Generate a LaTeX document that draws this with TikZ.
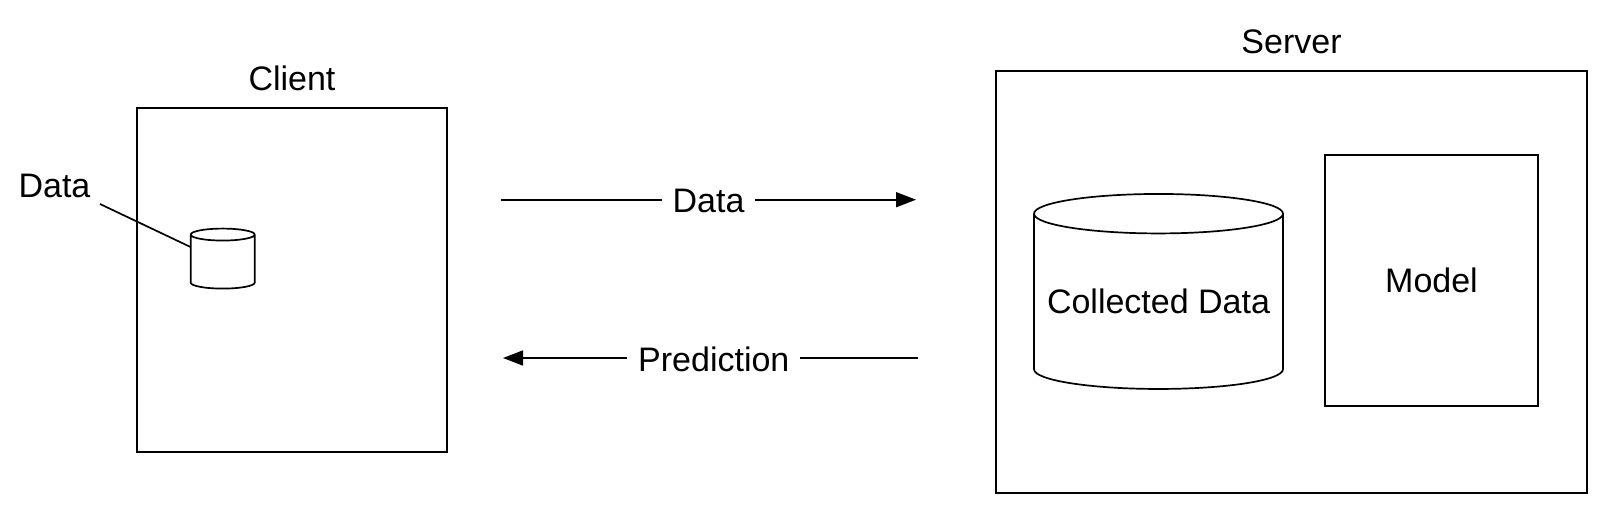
\documentclass[tikz,border=0pt]{standalone}
\usepackage{fontspec}
\setmainfont{Liberation Sans}
\usepackage{tikz}
\usetikzlibrary{arrows.meta}
\usetikzlibrary{positioning}
\usetikzlibrary{shapes.geometric}
\tikzset{box/.style = {draw, inner sep=0pt, outer sep=0pt, align=center, text centered}}
\tikzset{store/.style = {draw, cylinder, shape border rotate=90, inner sep=0pt, outer sep=0pt, align=center}}
\tikzset{caption/.style = {inner sep=0pt, outer sep=0pt}}
\tikzset{tag/.style = {fill=white, inner xsep=11pt, inner ysep=2pt, yshift=-1pt}}
\tikzset{arr/.style = {-{Triangle[length=20pt, width=15pt]}}}

\begin{document}
\begin{tikzpicture}[x=1pt, y=-1pt,
  line width=1.7pt,
  font=\fontsize{34}{38}\selectfont
]
\useasboundingbox (0,0) rectangle (1612,520);

\node[box, minimum width=310pt, minimum height=344pt] (client) at (292,280) {};
\node[caption, above=17pt of client] (clientname) {Client};
% the curve of the lid follows the text width, hence the phantom
\node[store, minimum width=64pt, minimum height=60pt, aspect=.226] (clientdb) at (222.7,262) {\phantom{Dat}};
\node[caption] (clientdata) at (54.5,186) {Data};
\coordinate (leader) at (100,204);

\node[box, minimum width=591pt, minimum height=422pt] (server) at (1291.5,282) {};
\node[caption, above=17pt of server] (servername) {Server};
\node[store, minimum width=249pt, minimum height=195pt, aspect=.177] (serverdb) at (1158.5,301.75) {Collected Data};
\node[box, minimum width=213pt, minimum height=251pt] (model) at (1431.5,280.5) {Model};

\coordinate (sendfrom) at (501,199.7);
\coordinate (sendto) at (916,199.7);
\coordinate (replyfrom) at (918,358);
\coordinate (replyto) at (503,358);

\draw (leader) -- (clientdb.155);
\draw[arr] (sendfrom) -- node[tag] (send) {Data} (sendto);
\draw[arr] (replyfrom) -- node[tag, pos=.492] (reply) {Prediction} (replyto);

\end{tikzpicture}
\end{document}
